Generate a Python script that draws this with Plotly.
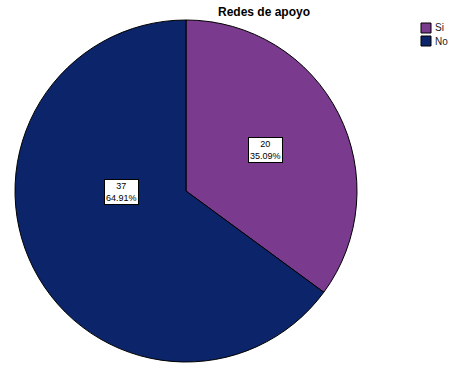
import plotly.graph_objects as go

categories = ["Si", "No"]
values = [20, 37]
percents = ["35.09%", "64.91%"]
colors = ["#7A3A8D", "#0C2469"]

W, H = 458, 371
cx, cy, R = 186, 191, 171


def px(x):
    return x / W


def py(y):
    return 1 - y / H


fig = go.Figure(go.Pie(
    labels=categories,
    values=values,
    sort=False,
    direction="clockwise",
    rotation=0,
    marker=dict(colors=colors, line=dict(color="black", width=1)),
    textinfo="none",
    hoverinfo="label+value+percent",
    showlegend=False,
    domain=dict(x=[px(cx - R), px(cx + R)], y=[py(cy + R), py(cy - R)]),
))

# value/percent label boxes (pixel offsets from pie centre)
label_offsets = [(79, -41), (-65, 1)]
for v, p, (dx, dy) in zip(values, percents, label_offsets):
    fig.add_annotation(
        x=px(cx + dx), y=py(cy + dy), xref="paper", yref="paper",
        xanchor="center", yanchor="middle",
        text=f"{v}<br>{p}", showarrow=False,
        font=dict(family="Arial, Liberation Sans", size=9, color="black"),
        bgcolor="white", bordercolor="black", borderwidth=1, borderpad=1,
        align="center",
    )

# compact legend (SPSS style)
lx, ly, sq, step = 421, 23, 10, 13
for i, (cat, col) in enumerate(zip(categories, colors)):
    y0 = ly + i * step
    fig.add_shape(type="rect", xref="paper", yref="paper",
                  x0=px(lx), x1=px(lx + sq), y0=py(y0 + sq), y1=py(y0),
                  fillcolor=col, line=dict(color="black", width=1))
    fig.add_annotation(x=px(lx + sq + 2), y=py(y0 + sq / 2), xref="paper", yref="paper",
                       text=cat, showarrow=False, xanchor="left", yanchor="middle",
                       font=dict(family="Arial, Liberation Sans", size=10, color="#222"))

fig.update_layout(
    width=W, height=H,
    margin=dict(l=0, r=0, t=0, b=0, autoexpand=False),
    paper_bgcolor="white", plot_bgcolor="white",
    showlegend=False,
    title=dict(text="<b>Redes de apoyo</b>", x=px(264), xanchor="center", y=py(11.5), yanchor="middle",
               font=dict(family="Arial, Liberation Sans", size=12, color="black")),
)

fig.write_html("out.html", config={"displayModeBar": False},
               post_script="document.body.style.margin='0';")
